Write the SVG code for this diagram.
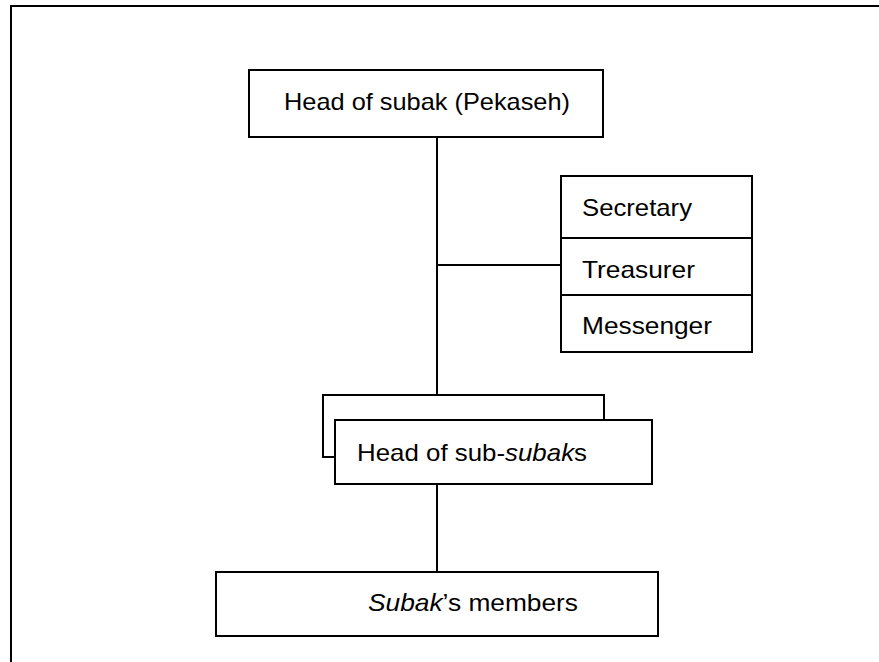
<svg xmlns="http://www.w3.org/2000/svg" width="879" height="662" viewBox="0 0 879 662">
<style>
  .box { fill: #fff; stroke: #000; stroke-width: 2; }
  .ln { fill: none; stroke: #000; stroke-width: 2; }
  .t { font-family: "Liberation Sans", Arial, sans-serif; font-size: 24px; fill: #000; }
</style>
<rect width="879" height="662" fill="#fff"/>
<g id="frame">
  <path class="ln" d="M11,663 V6 H880" stroke-width="2.5"/>
</g>
<g id="connectors">
  <line class="ln" x1="437" y1="137" x2="437" y2="395"/>
  <line class="ln" x1="437" y1="265" x2="561" y2="265"/>
  <line class="ln" x1="437" y1="484" x2="437" y2="572"/>
</g>
<g id="head">
  <rect class="box" x="249" y="70" width="354" height="67"/>
  <text class="t" x="284" y="110" textLength="286" lengthAdjust="spacingAndGlyphs">Head of subak (Pekaseh)</text>
</g>
<g id="officers">
  <rect class="box" x="561" y="176" width="191" height="176"/>
  <line class="ln" x1="561" y1="238" x2="752" y2="238"/>
  <line class="ln" x1="561" y1="295" x2="752" y2="295"/>
  <text class="t" x="582" y="216" textLength="110" lengthAdjust="spacingAndGlyphs">Secretary</text>
  <text class="t" x="582" y="278" textLength="113" lengthAdjust="spacingAndGlyphs">Treasurer</text>
  <text class="t" x="582" y="334" textLength="130" lengthAdjust="spacingAndGlyphs">Messenger</text>
</g>
<g id="subsubak">
  <rect class="box" x="323" y="395" width="281" height="62"/>
  <rect class="box" x="335" y="420" width="317" height="64"/>
  <text class="t" x="357" y="461" textLength="230" lengthAdjust="spacingAndGlyphs">Head of sub-<tspan font-style="italic">subak</tspan>s</text>
</g>
<g id="members">
  <rect class="box" x="216" y="572" width="442" height="64"/>
  <text class="t" x="368" y="611" textLength="210" lengthAdjust="spacingAndGlyphs"><tspan font-style="italic">Subak</tspan>’s members</text>
</g>
</svg>
